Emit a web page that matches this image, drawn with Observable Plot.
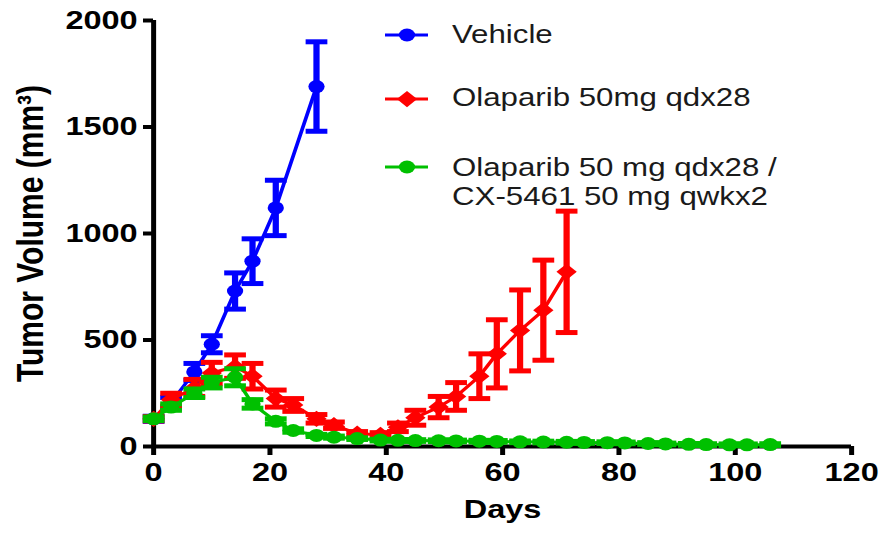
<!DOCTYPE html>
<html><head><meta charset="utf-8">
<script src="https://cdn.jsdelivr.net/npm/d3@7"></script>
<script src="https://cdn.jsdelivr.net/npm/@observablehq/plot@0.6"></script>
<style>html,body{margin:0;padding:0;background:#fff;} #chart{width:881px;height:535px;overflow:hidden}</style>
</head><body><div id="chart"></div>
<script>
const seriesNames = ["Vehicle", "Olaparib 50mg qdx28", "Olaparib 50 mg qdx28 /", "CX-5461 50 mg qwkx2"];
const seriesColors = ["#0000ff", "#ff0000", "#00c000"];

const vehicleDays = [0, 3, 7, 10, 14, 17, 21, 28];
const vehicleMean = [130, 205, 350, 480, 730, 870, 1120, 1690];
const vehicleSem  = [12, 25, 40, 40, 85, 105, 130, 210];

const olaDays = [0, 3, 7, 10, 14, 17, 21, 24, 28, 31, 35, 39, 42, 45, 49, 52, 56, 59, 63, 67, 71];
const olaMean = [130, 220, 275, 345, 375, 330, 225, 195, 130, 100, 60, 55, 90, 135, 185, 235, 330, 435, 545, 640, 820];
const olaSem  = [10, 30, 40, 50, 55, 60, 40, 30, 20, 15, 10, 10, 20, 35, 50, 65, 105, 160, 190, 235, 285];

const comboDays = [0, 3, 7, 10, 14, 17, 21, 24, 28, 31, 35, 39, 42, 45, 49, 52, 56, 59, 63, 67, 71, 74, 78, 81, 85, 88, 92, 95, 99, 102, 106];
const comboMean = [130, 185, 250, 300, 325, 200, 118, 75, 52, 44, 37, 30, 29, 28, 27, 26, 25, 24, 22, 21, 20, 19, 18, 17, 14, 12, 10, 9, 8, 8, 9];
const comboSem  = [8, 15, 20, 25, 40, 20, 12, 8, 5, 5, 4, 4, 4, 4, 4, 4, 4, 4, 4, 4, 4, 4, 4, 4, 4, 4, 4, 4, 4, 4, 4];

const xTicks = [0, 20, 40, 60, 80, 100, 120];
const yTicks = [0, 500, 1000, 1500, 2000];
const xLabel = "Days";
const yLabel = "Tumor Volume (mm³)";

function rows(days, mean, sem) {
  return days.map((d, i) => ({day: d, v: mean[i], lo: mean[i] - sem[i], hi: mean[i] + sem[i]}));
}
const vehicle = rows(vehicleDays, vehicleMean, vehicleSem);
const ola = rows(olaDays, olaMean, olaSem);
const combo = rows(comboDays, comboMean, comboSem);

const diamond = {draw(ctx, size) { const h = Math.sqrt(size / Math.PI) * 1.25; ctx.moveTo(0, -h); ctx.lineTo(h, 0); ctx.lineTo(0, h); ctx.lineTo(-h, 0); ctx.closePath(); }};
const cap = {draw(ctx, size) { const w = Math.sqrt(size / Math.PI); ctx.moveTo(-w, 0); ctx.lineTo(w, 0); }};

function seriesMarks(data, color, symbol) {
  return [
    Plot.ruleX(data, {x: "day", y1: "lo", y2: "hi", stroke: color, strokeWidth: 5}),
    Plot.dot(data, {x: "day", y: "hi", r: 8.7, symbol: cap, stroke: color, strokeWidth: 5}),
    Plot.dot(data, {x: "day", y: "lo", r: 8.7, symbol: cap, stroke: color, strokeWidth: 5}),
    Plot.line(data, {x: "day", y: "v", stroke: color, strokeWidth: 3}),
    Plot.dot(data, {x: "day", y: "v", r: 6.5, symbol: symbol, fill: color, stroke: null})
  ];
}

const W = 705, H = 535, S = 881 / W;
const font = "'Liberation Sans', Arial, sans-serif";

const plot = Plot.plot({
  width: W, height: H,
  marginLeft: 153 / S, marginRight: W - 851 / S, marginTop: 20, marginBottom: 89,
  style: {fontFamily: font, background: "#fff", color: "#000"},
  x: {domain: [0, 120]},
  y: {domain: [0, 2000]},
  marks: [
    Plot.axisX({ticks: xTicks, tickSize: 9, tickPadding: 7, tickFormat: d => String(d), fontSize: 26, fontWeight: "bold", strokeWidth: 4, label: null}),
    Plot.axisY({ticks: yTicks, tickSize: 8, tickPadding: 4.8, tickFormat: d => String(d), fontSize: 26, fontWeight: "bold", strokeWidth: 4, label: null}),
    Plot.ruleY([0], {strokeWidth: 4}),
    Plot.ruleX([0], {strokeWidth: 4}),
    ...seriesMarks(vehicle, seriesColors[0], "circle"),
    ...seriesMarks(ola, seriesColors[1], diamond),
    ...seriesMarks(combo, seriesColors[2], "circle"),
    Plot.text([xLabel], {text: d => d, frameAnchor: "bottom", textAnchor: "middle", dy: 71, fontSize: 26, fontWeight: "bold"}),
    Plot.text([yLabel], {text: d => d, frameAnchor: "left", textAnchor: "middle", lineAnchor: "middle", dx: 24 - 153 / S, rotate: -90, fontSize: 30, fontWeight: "bold"})
  ]
});

// legend inside the plot (unstretched coordinates)
const svg = d3.select(plot);
const lg = svg.append("g").attr("font-family", font).attr("font-size", 25).attr("fill", "#1a1a1a").attr("text-anchor", "start");
const legendItems = [
  {color: seriesColors[0], sym: d3.symbolCircle, y: 35, lines: [seriesNames[0]], base: [43]},
  {color: seriesColors[1], sym: diamond, y: 99, lines: [seriesNames[1]], base: [106.5]},
  {color: seriesColors[2], sym: d3.symbolCircle, y: 167, lines: [seriesNames[2], seriesNames[3]], base: [176, 205]}
];
for (const it of legendItems) {
  lg.append("line").attr("x1", 385 / S).attr("x2", 428 / S).attr("y1", it.y).attr("y2", it.y)
    .attr("stroke", it.color).attr("stroke-width", 3);
  lg.append("path").attr("d", d3.symbol(it.sym, Math.PI * 6.5 * 6.5)())
    .attr("transform", `translate(${407 / S},${it.y})`).attr("fill", it.color);
  it.lines.forEach((t, i) => lg.append("text").attr("x", 452 / S).attr("y", it.base[i]).attr("text-anchor", "start").text(t));
}

plot.setAttribute("width", 881);
plot.setAttribute("height", 535);
plot.setAttribute("preserveAspectRatio", "none");
plot.style.width = "881px";
plot.style.height = "535px";
plot.style.maxWidth = "none";
document.getElementById("chart").appendChild(plot);
</script>
</body></html>
